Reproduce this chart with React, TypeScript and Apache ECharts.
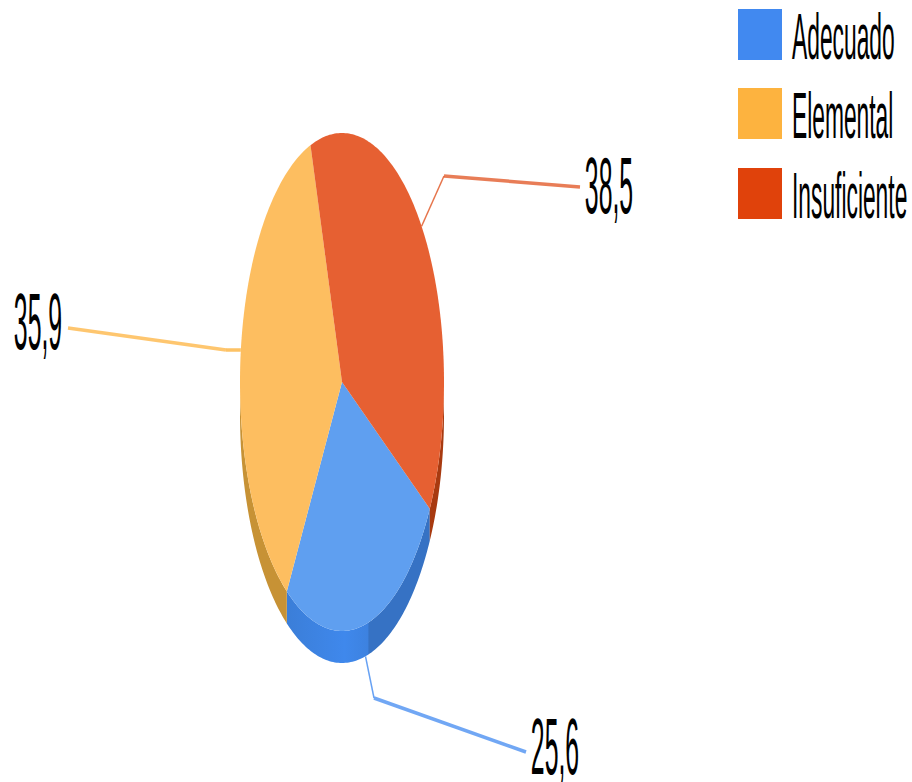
import React, { useEffect, useRef } from "react";
import * as echarts from "echarts";

const categories = ["Adecuado", "Elemental", "Insuficiente"];
const values = [25.6, 35.9, 38.5];
const valueLabels = ["25,6", "35,9", "38,5"];

const legendColors = ["#4189F0", "#FDB33F", "#E0420B"];
const topColors = ["#5F9FF0", "#FDBE60", "#E66032"];
const sideColors: any[] = [
  {
    type: "linear", x: 287, y: 0, x2: 431, y2: 0, global: true,
    colorStops: [
      { offset: 0, color: "#3B7ED8" },
      { offset: 0.4, color: "#3F88EC" },
      { offset: 0.56, color: "#3D82E0" },
      { offset: 0.57, color: "#3672C4" },
      { offset: 1, color: "#3672C4" },
    ],
  },
  "#C79235",
  "#A83A10",
];
const lineColors = ["#4189F0", "#FDB33F", "#E0521F"];

const PIE = { cx: 342, cy: 382, rx: 102, ry: 249, depth: 32, startAngle: 120.6 };
const elbows: number[][][] = [
  [[374, 698], [526, 752]],
  [[226, 350], [68, 328]],
  [[444, 176], [580, 187]],
];
const labelPos = [[555, 746], [38, 321], [609, 185]];
const legendY = [9, 88, 168];

const rim = (deg: number, dy = 0) => {
  const a = (deg * Math.PI) / 180;
  return [PIE.cx + PIE.rx * Math.sin(a), PIE.cy - PIE.ry * Math.cos(a) + dy];
};
const arc = (from: number, to: number, dy = 0) => {
  const pts: number[][] = [];
  const n = Math.max(2, Math.ceil(Math.abs(to - from)));
  for (let i = 0; i <= n; i++) pts.push(rim(from + ((to - from) * i) / n, dy));
  return pts;
};
const total = values.reduce((s, v) => s + v, 0);

const renderItem = (params: any, api: any) => {
  const i = params.dataIndex;
  let before = 0;
  for (let k = 0; k < i; k++) before += values[k];
  const from = PIE.startAngle + (before / total) * 360;
  const value = api.value(0);
  const to = from + (value / total) * 360;
  const mid = (from + to) / 2;
  const children: any[] = [];

  // visible wall: the lower half of the ellipse (90..270, also +360)
  [0, 360].forEach((shift) => {
    const a = Math.max(from, 90 + shift);
    const b = Math.min(to, 270 + shift);
    if (b > a) {
      children.push({
        type: "polygon",
        shape: { points: [...arc(a, b), ...arc(b, a, PIE.depth)] },
        style: { fill: sideColors[i] },
      });
    }
  });
  children.push({
    type: "polygon",
    shape: { points: [[PIE.cx, PIE.cy], ...arc(from, to)] },
    style: { fill: topColors[i] },
  });

  const norm = ((mid % 360) + 360) % 360;
  const anchor = rim(mid, norm > 90 && norm < 270 ? PIE.depth : 0);
  const [e1, e2] = elbows[i];
  children.push({
    type: "polyline",
    shape: { points: [anchor, e1] },
    style: { stroke: lineColors[i], lineWidth: i === 1 ? 3.5 : 1.5, fill: "none", opacity: 0.8 },
  });
  children.push({
    type: "polyline",
    shape: { points: [e1, e2] },
    style: { stroke: lineColors[i], lineWidth: 3.5, fill: "none", opacity: 0.75 },
  });
  children.push({
    type: "text",
    x: labelPos[i][0],
    y: labelPos[i][1],
    scaleX: 0.62,
    scaleY: 1.98,
    style: {
      text: valueLabels[i],
      font: '40px "Liberation Sans"',
      lineHeight: 30,
      fill: "#000",
      align: "center",
      verticalAlign: "middle",
    },
  });
  return { type: "group", children };
};

export default function App() {
  const ref = useRef<HTMLDivElement>(null);
  useEffect(() => {
    const chart = echarts.init(ref.current!, undefined, { renderer: "svg" });
    chart.setOption({
      animation: false,
      backgroundColor: "#fff",
      series: [
        {
          type: "custom",
          coordinateSystem: "none",
          renderItem,
          data: values.map((v, i) => ({ name: categories[i], value: [v] })),
          silent: true,
        },
      ],
      graphic: categories.flatMap((c, i) => [
        {
          type: "rect",
          shape: { x: 738, y: legendY[i], width: 44, height: 51 },
          style: { fill: legendColors[i] },
        },
        {
          type: "text",
          x: 792,
          y: legendY[i] + 28,
          scaleX: 0.57,
          scaleY: 1.6,
          style: {
            text: c,
            font: '40px "Liberation Sans"',
            lineHeight: 30,
            fill: "#000",
            align: "left",
            verticalAlign: "middle",
          },
        },
      ]),
    });
    return () => chart.dispose();
  }, []);
  return (
    <div
      ref={ref}
      style={{ position: "absolute", left: 0, top: 0, width: 912, height: 782 }}
    />
  );
}
